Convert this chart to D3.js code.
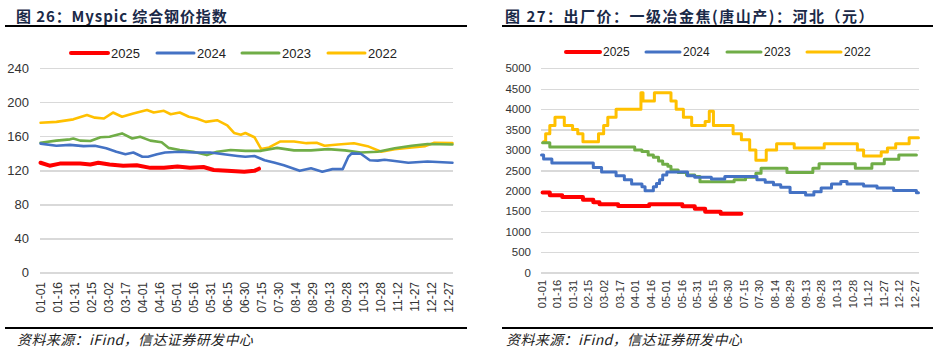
<!DOCTYPE html>
<head>
<meta charset="utf-8">
<script src="https://d3js.org/d3.v7.min.js"></script>
<style>
body { margin:0; background:#fff; }
.grid line { stroke:#d9d9d9; stroke-width:1.2; shape-rendering:crispEdges; }
.grid path { display:none; }
.ylab text { font-family:"Liberation Sans", Arial, sans-serif; fill:#333; }
.xlab text { font-family:"Liberation Sans", Arial, sans-serif; fill:#333; }
.line { fill:none; stroke-linejoin:round; stroke-linecap:round; }
</style>
</head>
<body>
<svg width="944" height="353"></svg>
<script>
// x axis: day of year, labelled every 15 days
var dayLabels = ["01-01","01-16","01-31","02-15","03-02","03-17","04-01","04-16","05-01","05-16","05-31","06-15","06-30","07-15","07-30","08-14","08-29","09-13","09-28","10-13","10-28","11-12","11-27","12-12","12-27"];
var years = ["2025","2024","2023","2022"];
var colors = ["#ff0000","#4472c4","#70ad47","#ffc000"];

// Fig 26 Myspic index  [day, value]
var mys2025 = [[0,129],[8,125.5],[17,128],[35,128],[44,127],[51,129],[61,127],[73,125.5],[85,126],[97,123],[109,123],[121,124.5],[132,123],[144,124],[153,120.5],[165,119.5],[180,118.5],[189,119.5],[193,122]];
var mys2024 = [[0,151.5],[14,149],[26,150],[38,148.5],[48,149],[58,146],[67,142],[75,139],[82,141],[90,136],[95,136],[103,139],[110,141],[123,142],[135,141],[150,141],[162,139],[174,137],[181,136],[189,137],[198,132],[207,129],[215,126],[229,119.5],[239,122.5],[249,118.5],[258,121.5],[267,121.5],[272,136],[275,140],[283,139.5],[291,132],[298,131.5],[304,132.5],[313,131],[325,129],[342,130.5],[364,129]];
var mys2023 = [[0,152.5],[14,155],[26,156.5],[29,157.5],[35,155],[44,154.5],[53,159],[61,159.5],[72,163.5],[81,157.5],[88,159.5],[97,155],[107,153],[113,146.5],[123,144],[135,142],[147,138],[156,142],[168,144],[181,143],[195,143],[209,146.5],[224,143.5],[239,143.5],[254,145],[269,143.5],[283,141],[298,142],[313,146],[328,149],[342,151],[364,150.5]];
var mys2022 = [[0,176],[14,177],[29,180],[41,185],[48,182],[56,181],[64,188],[72,183],[82,187],[94,191],[100,188],[109,190],[115,186],[123,188],[131,183],[138,181],[146,177],[156,179],[165,173],[171,164],[177,162],[181,164],[189,159],[195,145],[202,147],[212,154],[224,154],[235,152],[244,152.5],[251,149],[263,150.5],[277,152],[289,148.5],[301,142],[313,145],[328,147],[340,148.5],[348,152.5],[364,152]];

// Fig 27 coke ex-factory price, Tangshan  [day, value from that day on]
var coke2025 = [[1,1960],[8,1890],[20,1850],[40,1780],[50,1720],[56,1670],[74,1630],[104,1670],[136,1620],[148,1560],[158,1490],[173,1440],[193,1440]];
var coke2024 = [[0,2880],[2,2780],[10,2680],[50,2570],[58,2460],[72,2370],[80,2270],[87,2170],[97,2100],[100,2000],[108,2100],[111,2180],[114,2270],[117,2390],[121,2460],[141,2370],[148,2330],[164,2290],[177,2350],[208,2270],[216,2210],[224,2150],[231,2090],[240,1960],[255,1900],[263,1980],[270,2070],[280,2170],[289,2230],[295,2170],[311,2120],[324,2070],[340,2010],[362,1950],[364,1950]];
var coke2023 = [[1,3180],[8,3070],[90,3000],[97,2960],[103,2880],[108,2820],[113,2730],[117,2650],[122,2600],[125,2510],[132,2450],[140,2390],[148,2350],[153,2220],[186,2270],[197,2330],[207,2430],[212,2550],[237,2450],[262,2550],[268,2660],[303,2550],[319,2660],[331,2770],[345,2880],[362,2880]];
var coke2022 = [[2,3200],[4,3400],[8,3600],[13,3800],[22,3600],[30,3500],[35,3400],[40,3200],[55,3400],[60,3600],[64,3800],[72,4000],[96,4400],[98,4200],[109,4400],[125,4200],[130,4000],[137,3800],[145,3600],[158,3700],[162,3950],[166,3600],[185,3400],[193,3250],[201,3000],[207,2750],[217,3000],[227,3150],[244,3050],[273,3150],[305,3000],[311,2850],[328,2950],[334,3050],[342,3150],[355,3300],[364,3300]];

var svg = d3.select("svg");

function drawChart(c) {
	var g = svg.append("g");

	// title + rules
	g.append("text").attr("x", c.titleX).attr("y", 22).text(c.title)
	.style("font-family", '"Noto Sans CJK SC", sans-serif').style("font-size", "15px")
	.style("letter-spacing", c.titleSp + "px")
	.style("font-weight", "bold").style("fill", "#1b2a48");
	g.append("line").attr("x1", c.ruleX[0]).attr("x2", c.ruleX[1]).attr("y1", 26).attr("y2", 26)
	.style("stroke", "#000").style("stroke-width", 2);
	g.append("line").attr("x1", c.ruleX[0]).attr("x2", c.ruleX[1]).attr("y1", 328).attr("y2", 328)
	.style("stroke", "#000").style("stroke-width", 2);
	g.append("text").attr("x", c.titleX + 1).attr("y", 345).text("资料来源：iFind，信达证券研发中心")
	.style("font-family", '"Noto Sans CJK SC", sans-serif').style("font-size", "14px")
	.style("letter-spacing", "0.4px")
	.style("font-style", "italic").style("fill", "#222");

	var x = d3.scaleLinear().domain([-0.5, 364.5]).range(c.xRange);
	var y = d3.scaleLinear().domain([0, c.yMax]).range([272.5, 68.3]);
	var yTicks = d3.range(0, c.yMax + 1, c.yStep);

	// gridlines
	g.append("g").attr("class", "grid")
	.attr("transform", "translate(" + c.xRange[0] + ",0)")
	.call(d3.axisLeft(y).tickValues(yTicks).tickSize(-(c.xRange[1] - c.xRange[0])).tickFormat(""));

	// y labels
	var yl = g.append("g").attr("class", "ylab")
	.attr("transform", "translate(" + c.yLabX + ",0)")
	.call(d3.axisLeft(y).tickValues(yTicks).tickFormat(d3.format("d")).tickSize(0).tickPadding(0));
	yl.select(".domain").remove();
	yl.selectAll("text").style("font-size", c.yFont + "px");

	// x labels
	var xl = g.append("g").attr("class", "xlab")
	.attr("transform", "translate(0," + c.xLabY + ")")
	.call(d3.axisBottom(x).tickValues(dayLabels.map((d, i) => i * 15)).tickFormat((d, i) => dayLabels[i]).tickSize(0).tickPadding(0));
	xl.select(".domain").remove();
	xl.selectAll("text").attr("transform", "rotate(-90)").attr("text-anchor", "end")
	.attr("x", 0).attr("y", 0).attr("dy", "0.35em").style("font-size", c.xFont + "px");

	// lines, 2022 at the back
	var line = d3.line().curve(c.curve).x(d => x(d[0])).y(d => y(d[1]));
	for (var k = c.series.length - 1; k >= 0; k--) {
		g.append("path").attr("class", "line").attr("d", line(c.series[k]))
		.style("stroke", colors[k]).style("stroke-width", k == 0 ? 4 : c.lw);
	}

	// legend
	years.forEach(function(yr, i) {
		var lx = c.legX[i];
		g.append("line").attr("x1", lx).attr("x2", lx + c.legLen).attr("y1", c.legY).attr("y2", c.legY)
		.style("stroke", colors[i]).style("stroke-width", i == 0 ? 4 : 3).style("stroke-linecap", "round");
		g.append("text").attr("x", lx + c.legLen + 3).attr("y", c.legY).attr("dy", "0.35em").text(yr)
		.style("font-family", '"Liberation Sans", Arial, sans-serif').style("font-size", c.legFont + "px").style("fill", "#222");
	});
}

drawChart({
	title: "图 26：Myspic 综合钢价指数", titleX: 16, titleSp: 0.9, ruleX: [5, 467],
	xRange: [40, 453], yMax: 240, yStep: 40, yLabX: 29, yFont: 13, xLabY: 282, xFont: 12,
	series: [mys2025, mys2024, mys2023, mys2022], curve: d3.curveLinear, lw: 2.6,
	legX: [71, 157, 242, 328], legLen: 37, legY: 53, legFont: 13
});

drawChart({
	title: "图 27：出厂价：一级冶金焦(唐山产)：河北（元）", titleX: 505, titleSp: 1.5, ruleX: [502, 933],
	xRange: [541, 919], yMax: 5000, yStep: 500, yLabX: 531, yFont: 11.5, xLabY: 280, xFont: 11,
	series: [coke2025, coke2024, coke2023, coke2022], curve: d3.curveStepAfter, lw: 3,
	legX: [566, 646, 727, 807], legLen: 34, legY: 52, legFont: 12
});
</script>
</body>
